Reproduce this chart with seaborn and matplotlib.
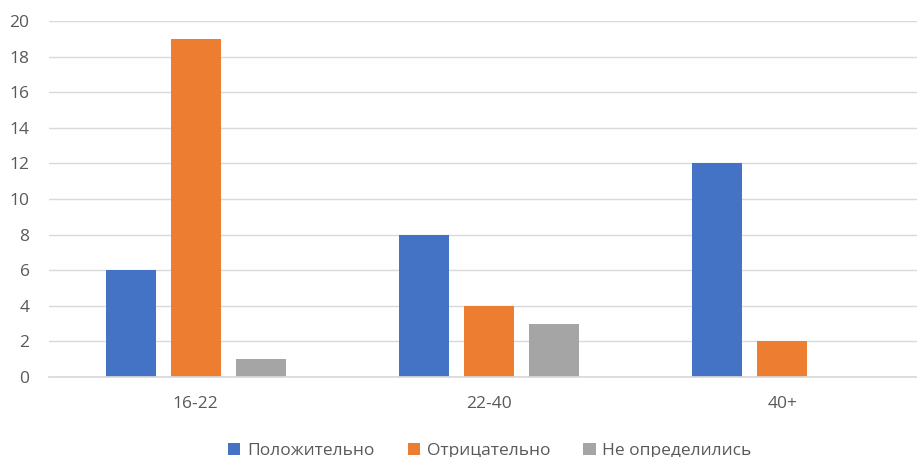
import matplotlib
matplotlib.use("Agg")
import matplotlib.pyplot as plt
import seaborn as sns
import pandas as pd

# Данные диаграммы
age_groups = ["16-22", "22-40", "40+"]
series_names = ["Положительно", "Отрицательно", "Не определились"]
positive = [6, 8, 12]
negative = [19, 4, 2]
undecided = [1, 3, 0]
colors = ["#4472C4", "#ED7D31", "#A5A5A5"]

rows = []
for name, vals in zip(series_names, [positive, negative, undecided]):
    for grp, v in zip(age_groups, vals):
        rows.append({"Возраст": grp, "Ответ": name, "Кол-во": v})
df = pd.DataFrame(rows)

sns.set_theme(style="white")
plt.rcParams["font.family"] = ["Open Sans", "DejaVu Sans"]

fig = plt.figure(figsize=(9.17, 4.57), dpi=100)
ax = fig.add_axes([49 / 917, 80 / 457, 880 / 917, 356 / 457])

sns.barplot(data=df, x="Возраст", y="Кол-во", hue="Ответ",
            hue_order=series_names, palette=colors, width=0.665, gap=0.23,
            saturation=1, edgecolor="none", ax=ax)

ax.set_xlim(-0.5, 2.5)
ax.set_ylim(0, 20)
ax.set_yticks(range(0, 21, 2))
ax.yaxis.grid(True, color="#D9D9D9", linewidth=1)
ax.set_axisbelow(True)
for side in ["top", "right", "left"]:
    ax.spines[side].set_visible(False)
ax.spines["bottom"].set_color("#D9D9D9")
ax.set_xlabel("")
ax.set_ylabel("")
ax.tick_params(axis="both", length=0, labelsize=12.5, colors="#595959")
ax.tick_params(axis="x", pad=14)
ax.tick_params(axis="y", pad=14)

handles, labels = ax.get_legend_handles_labels()
ax.legend(handles, labels, loc="center", bbox_to_anchor=(441 / 880, -0.207),
          ncol=3, frameon=False, fontsize=12.5, handlelength=0.7, handleheight=0.7,
          handletextpad=0.4, columnspacing=1.9, labelcolor="#595959")

fig.savefig("out.png", dpi=100)
